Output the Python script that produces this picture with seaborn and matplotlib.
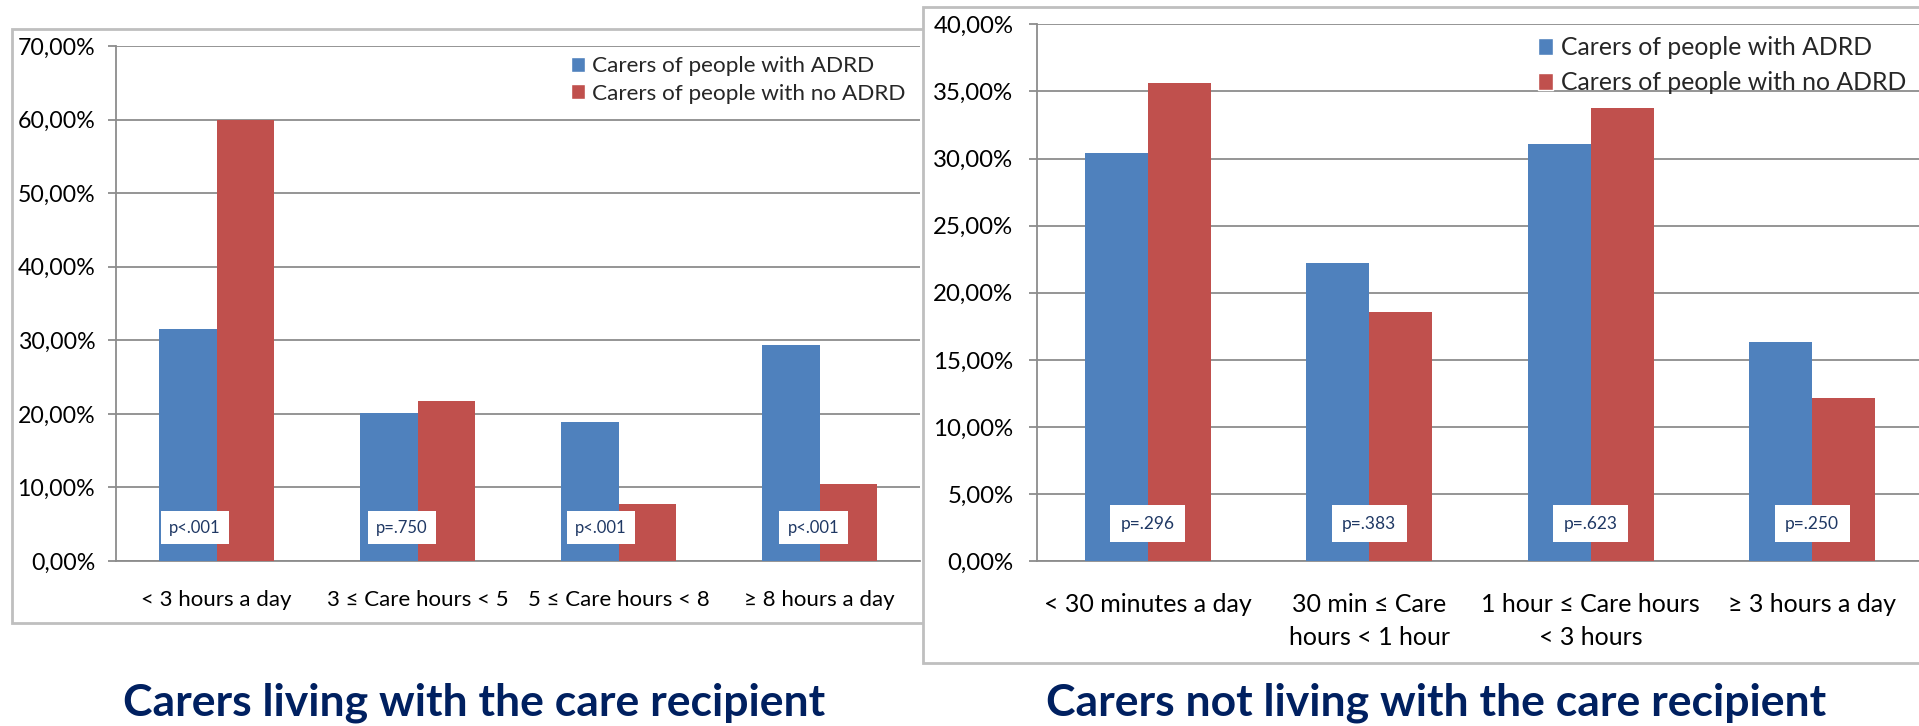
import matplotlib
matplotlib.use("Agg")
import matplotlib.pyplot as plt
from matplotlib.patches import Rectangle
from matplotlib.ticker import FuncFormatter, FixedLocator
import seaborn as sns
import pandas as pd

sns.set_style("white")
plt.rcParams['font.family'] = ['Lato', 'DejaVu Sans']

# ---------------- data ----------------
series_names = ["Carers of people with ADRD", "Carers of people with no ADRD"]

living_cats = ["< 3 hours a day", "3 \u2264 Care hours < 5", "5 \u2264 Care hours < 8", "\u2265 8 hours a day"]
living_adrd = [31.5, 20.1, 18.9, 29.3]
living_no_adrd = [60.0, 21.7, 7.8, 10.5]
living_p = ["p<.001", "p=.750", "p<.001", "p<.001"]

notliving_cats = ["< 30 minutes a day", "30 min \u2264 Care\nhours < 1 hour", "1 hour \u2264 Care hours\n< 3 hours", "\u2265 3 hours a day"]
notliving_adrd = [30.4, 22.2, 31.1, 16.3]
notliving_no_adrd = [35.6, 18.55, 33.8, 12.2]
notliving_p = ["p=.296", "p=.383", "p=.623", "p=.250"]

titles = ["Carers living with the care recipient", "Carers not living with the care recipient"]

# ---------------- style ----------------
BLUE = "#4F81BD"
RED = "#C0504D"
GRID = "#8C8C8C"
FRAME = "#BFBFBF"
NAVY = "#002060"
PTXT = "#1F3864"

W, H = 1919, 726
fig = plt.figure(figsize=(W / 100, H / 100), dpi=100)
fig.patch.set_facecolor("white")


def px_rect(x0, y0, x1, y1):
    return [x0 / W, 1 - y1 / H, (x1 - x0) / W, (y1 - y0) / H]


def pct(v, pos):
    return f"{v:.2f}".replace(".", ",") + "%"


def make_df(cats, a, b):
    return pd.DataFrame({
        "cat": cats * 2,
        "val": list(a) + list(b),
        "grp": [series_names[0]] * len(cats) + [series_names[1]] * len(cats),
    })


def draw_panel(ax, cats, a, b, ymax, ystep, tick_fs, xlab_fs, ypad, xpad, lsp):
    df = make_df(cats, a, b)
    sns.barplot(data=df, x="cat", y="val", hue="grp", order=cats,
                hue_order=series_names, palette=[BLUE, RED], saturation=1,
                width=0.57, gap=0, ax=ax, legend=False, zorder=3,
                edgecolor="none", linewidth=0)
    ax.set_xlim(-0.5, len(cats) - 0.5)
    ax.set_ylim(0, ymax)
    ax.yaxis.set_major_locator(FixedLocator([i * ystep for i in range(int(round(ymax / ystep)) + 1)]))
    ax.yaxis.set_major_formatter(FuncFormatter(pct))
    ax.grid(axis="y", color=GRID, lw=1.3, zorder=0)
    ax.set_axisbelow(True)
    for s in ["top", "right"]:
        ax.spines[s].set_visible(False)
    for s in ["left", "bottom"]:
        ax.spines[s].set_color(GRID)
        ax.spines[s].set_linewidth(1.3)
    ax.set_xlabel("")
    ax.set_ylabel("")
    ax.set_xticks(range(len(cats)))
    ax.set_xticklabels(cats, fontsize=xlab_fs, linespacing=lsp)
    ax.set_xticks([i - 0.5 for i in range(len(cats) + 1)], minor=True)
    ax.tick_params(axis="x", which="major", length=0, pad=xpad, colors="black")
    ax.tick_params(axis="x", which="minor", length=7, width=1.3, color=GRID, direction="out")
    ax.tick_params(axis="y", which="major", length=6, width=1.3, color=GRID,
                   direction="out", labelsize=tick_fs, pad=ypad, labelcolor="black", left=True)
    ax.set_facecolor("white")


# frames
fig.patches.append(Rectangle((12 / W, 1 - 623 / H), (925 - 12) / W, (623 - 29) / H,
                             transform=fig.transFigure, facecolor="white",
                             edgecolor=FRAME, lw=2, zorder=-1))
fig.patches.append(Rectangle((923 / W, 1 - 663 / H), (1930 - 923) / W, (663 - 7) / H,
                             transform=fig.transFigure, facecolor="white",
                             edgecolor=FRAME, lw=2, zorder=1))

# left panel
ax1 = fig.add_axes(px_rect(116, 46, 920, 561), zorder=0)
draw_panel(ax1, living_cats, living_adrd, living_no_adrd, 70, 10,
           tick_fs=16.7, xlab_fs=16, ypad=9, xpad=21, lsp=1.35)
left_dx = [-0.107, -0.077, -0.087, -0.03]
for i, t in enumerate(living_p):
    ax1.text(i + left_dx[i], 4.55, t, ha="center", va="center", fontsize=12,
             color=PTXT, zorder=5,
             bbox=dict(boxstyle="square,pad=0.5", facecolor="white", edgecolor="none"))

# right panel
ax2 = fig.add_axes(px_rect(1037, 24.3, 1923, 561.3), zorder=2)
draw_panel(ax2, notliving_cats, notliving_adrd, notliving_no_adrd, 40, 5,
           tick_fs=17.3, xlab_fs=18, ypad=11, xpad=23, lsp=1.5)
for i, t in enumerate(notliving_p):
    ax2.text(i, 2.8, t, ha="center", va="center", fontsize=12.5,
             color=PTXT, zorder=5,
             bbox=dict(boxstyle="square,pad=0.6", facecolor="white", edgecolor="none"))

# legends
for ax, anchor, fs, spacing in [(ax1, (571 / W, 1 - 56 / H), 16.2, 0.35),
                                (ax2, (1538 / W, 1 - 36 / H), 17.8, 0.5)]:
    handles = [Rectangle((0, 0), 1, 1, facecolor=c) for c in (BLUE, RED)]
    ax.legend(handles, series_names, loc="upper left", bbox_to_anchor=anchor,
              bbox_transform=fig.transFigure, frameon=False, fontsize=fs,
              handlelength=0.6, handleheight=0.65, handletextpad=0.35,
              labelspacing=spacing, borderpad=0, borderaxespad=0)

# titles
fig.text(474 / W, 1 - 703 / H, titles[0], ha="center", va="center",
         fontsize=32, fontweight="bold", color=NAVY)
fig.text(1436 / W, 1 - 703 / H, titles[1], ha="center", va="center",
         fontsize=32, fontweight="bold", color=NAVY)

fig.savefig("out.png", dpi=100, facecolor="white")
